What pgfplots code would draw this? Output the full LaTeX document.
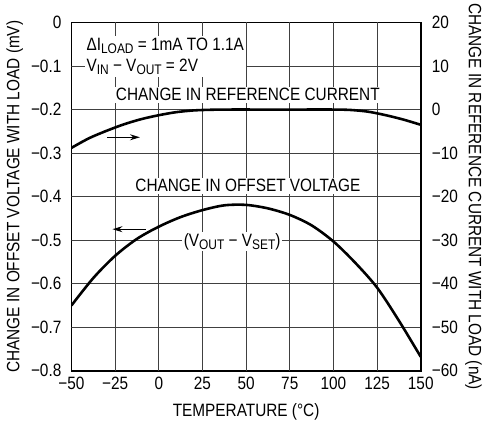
\documentclass[border=0pt]{standalone}
\usepackage{fontspec}
\setmainfont{Liberation Sans}[FakeStretch=0.86]
\usepackage{pgfplots}
\pgfplotsset{compat=1.18}
\usetikzlibrary{arrows.meta}
\newcommand\fs{\fontsize{18}{21.5}\selectfont}
\newcommand\sub[1]{\raisebox{-3.5pt}{\fontsize{14}{15}\selectfont #1}}
\tikzset{gridc/.style={draw=black!75,line width=1pt}}
\begin{document}
\begin{tikzpicture}
\path (-72pt,-56pt) rectangle (413pt,367pt);
\begin{axis}[
 scale only axis, width=352pt, height=351pt,
 xmin=-50,xmax=150,ymin=-0.8,ymax=0,
 xtick={-50,-25,0,25,50,75,100,125,150},
 xticklabels={−50,−25,0,25,50,75,100,125,150},
 ytick={-0.8,-0.7,-0.6,-0.5,-0.4,-0.3,-0.2,-0.1,0},
 yticklabels={−0.8,−0.7,−0.6,−0.5,−0.4,−0.3,−0.2,−0.1,0},
 xmajorgrids, ymajorgrids,
 major grid style={draw=black!75,line width=1pt},
 axis line style={black,line width=1.8pt},
 tick style={draw=none},
 tick label style={font=\fs, inner sep=0pt},
 yticklabel style={xshift=-10pt},
 xticklabel style={yshift=-6pt},
 xlabel={TEMPERATURE (°C)},
 ylabel={CHANGE IN OFFSET VOLTAGE WITH LOAD (mV)},
 xlabel style={at={(axis description cs:0.5,-0.117)},anchor=center,font=\fs},
 ylabel style={at={(axis description cs:-0.162,0.5)},anchor=center,font=\fs},
]
\draw[gridc] (axis cs:-25,-0.8) -- (axis cs:-25,0);
\draw[gridc] (axis cs:0,-0.8) -- (axis cs:0,0);
\draw[gridc] (axis cs:25,-0.8) -- (axis cs:25,0);
\draw[gridc] (axis cs:50,-0.8) -- (axis cs:50,0);
\draw[gridc] (axis cs:75,-0.8) -- (axis cs:75,0);
\draw[gridc] (axis cs:100,-0.8) -- (axis cs:100,0);
\draw[gridc] (axis cs:125,-0.8) -- (axis cs:125,0);
\draw[gridc] (axis cs:-50,-0.7) -- (axis cs:150,-0.7);
\draw[gridc] (axis cs:-50,-0.6) -- (axis cs:150,-0.6);
\draw[gridc] (axis cs:-50,-0.5) -- (axis cs:150,-0.5);
\draw[gridc] (axis cs:-50,-0.4) -- (axis cs:150,-0.4);
\draw[gridc] (axis cs:-50,-0.3) -- (axis cs:150,-0.3);
\draw[gridc] (axis cs:-50,-0.2) -- (axis cs:150,-0.2);
\draw[gridc] (axis cs:-50,-0.1) -- (axis cs:150,-0.1);
\addplot[black,line width=2.6pt,smooth] coordinates {
(-50,-0.650) (-37.5,-0.587) (-25,-0.536) (-12.5,-0.497) (0,-0.469) (12.5,-0.447)
(25,-0.431) (37.5,-0.420) (50,-0.419) (62.5,-0.427) (75,-0.442) (87.5,-0.466)
(100,-0.503) (112.5,-0.552) (125,-0.609) (137.5,-0.685) (150,-0.768)};
\node[fill=white,inner sep=2pt,align=left,anchor=north west,font=\fs] at (axis cs:-42.6,-0.0296)
 {ΔI\sub{LOAD} = 1mA TO 1.1A\\V\sub{IN} − V\sub{OUT} = 2V};
\node[fill=white,inner sep=1.5pt,anchor=base,font=\fs] at (axis cs:51,-0.180) {CHANGE IN REFERENCE CURRENT};
\node[fill=white,inner sep=1.5pt,anchor=base,font=\fs] at (axis cs:51,-0.389) {CHANGE IN OFFSET VOLTAGE};
\node[fill=white,inner sep=1.5pt,anchor=base,font=\fs] at (axis cs:42,-0.514) {(V\sub{OUT} − V\sub{SET})};
\draw[black,line width=1.2pt,-{Stealth[length=10pt,width=6pt]}] (axis cs:-29.5,-0.2637) -- (axis cs:-10.8,-0.2637);
\draw[black,line width=1.2pt,-{Stealth[length=10pt,width=6pt]}] (axis cs:-7.6,-0.4748) -- (axis cs:-26.5,-0.4748);
\end{axis}
\begin{axis}[
 scale only axis, width=352pt, height=351pt,
 xmin=-50,xmax=150,ymin=-60,ymax=20,
 axis x line=none, axis y line*=right,
 axis line style={black,line width=1.8pt},
 ytick={-60,-50,-40,-30,-20,-10,0,10,20},
 yticklabels={−60,−50,−40,−30,−20,−10,0,10,20},
 tick style={draw=none},
 tick label style={font=\fs, inner sep=0pt},
 yticklabel style={xshift=11pt},
 ylabel={CHANGE IN REFERENCE CURRENT WITH LOAD (nA)},
 every axis y label/.style={at={(axis description cs:1.1506,0.5)},anchor=center,rotate=-90,font=\fs},
]
\addplot[black,line width=2.6pt,smooth] coordinates {
(-50,-8.8) (-40,-6.6) (-30,-4.9) (-20,-3.4) (-10,-2.2) (0,-1.3) (10,-0.6) (20,-0.2)
(30,-0.05) (40,0) (60,0) (80,0) (100,0) (110,-0.1) (120,-0.5) (130,-1.3) (140,-2.3) (150,-3.5)};
\end{axis}
\end{tikzpicture}
\end{document}
